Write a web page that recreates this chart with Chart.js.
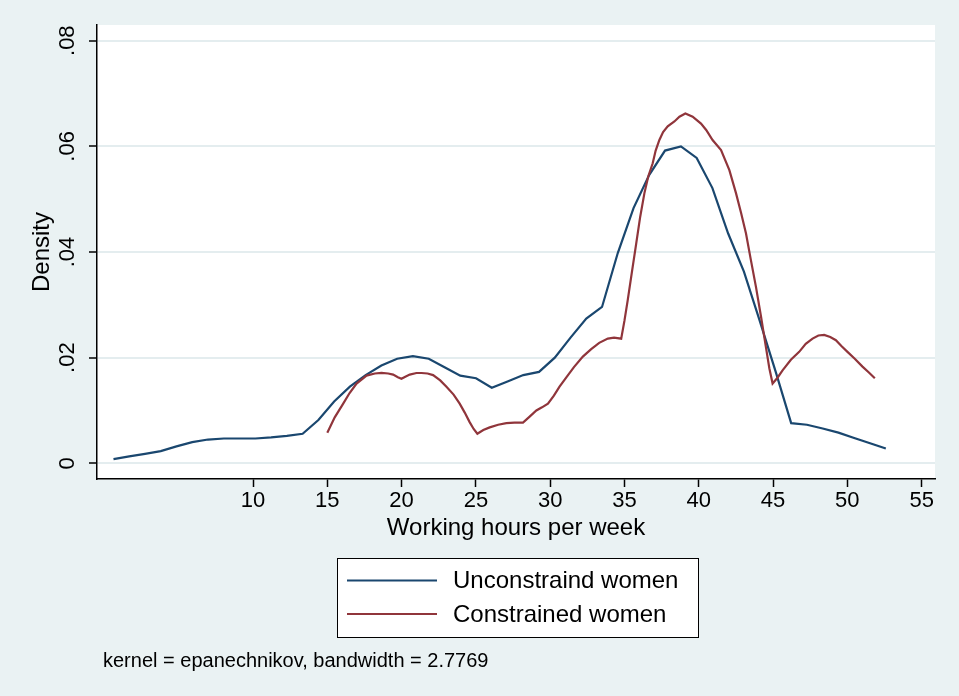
<!DOCTYPE html>
<html><head><meta charset="utf-8">
<script src="https://cdn.jsdelivr.net/npm/chart.js@4.4.1/dist/chart.umd.min.js"></script>
<style>html,body{margin:0;padding:0;background:#EAF2F3;} #wrap{width:959px;height:696px;position:relative;}</style>
</head><body><div id="wrap"><canvas id="c" width="959" height="696"></canvas></div>
<script>
// ---- data ----
const hoursUnconstrained = [0.61,1.67,2.73,3.79,4.85,5.91,6.97,8.04,9.10,10.16,11.22,12.28,13.34,14.40,15.46,16.52,17.58,18.64,19.70,20.76,21.83,22.89,23.95,25.01,26.07,27.13,28.19,29.25,30.31,31.37,32.43,33.49,34.55,35.61,36.67,37.73,38.80,39.86,40.92,41.98,43.04,44.10,45.16,46.22,47.28,48.34,49.40,50.46,51.53,52.59];
const densityUnconstrained = [0.0008,0.0013,0.0018,0.0023,0.0032,0.0040,0.0045,0.0047,0.0047,0.0047,0.0049,0.0052,0.0056,0.0082,0.0117,0.0145,0.0167,0.0185,0.0198,0.0203,0.0198,0.0182,0.0166,0.0161,0.0143,0.0155,0.0167,0.0173,0.0200,0.0238,0.0274,0.0296,0.0398,0.0483,0.0546,0.0592,0.0600,0.0578,0.0521,0.0435,0.0363,0.0270,0.0175,0.0076,0.0073,0.0066,0.0058,0.0048,0.0038,0.0028];
const hoursConstrained = [15.0,15.5,16.07,16.5,16.97,17.64,18.2,18.65,19.1,19.43,19.75,19.99,20.25,20.55,21.0,21.34,21.75,22.12,22.6,23.02,23.5,23.91,24.25,24.58,24.85,25.10,25.5,25.93,26.5,27.05,27.6,28.17,28.6,29.07,29.45,29.85,30.25,30.63,31.1,31.6,32.2,32.76,33.3,33.88,34.3,34.78,35.0,35.22,35.5,35.79,36.05,36.34,36.6,36.90,37.1,37.35,37.6,37.91,38.36,38.70,39.10,39.59,40.15,40.5,40.93,41.50,42.06,42.51,42.85,43.18,43.5,43.85,44.2,44.52,44.75,44.97,45.3,45.64,46.2,46.76,47.2,47.66,48.05,48.44,48.85,49.23,49.6,50.01,50.5,51.02,51.45,51.85];
const densityConstrained = [0.0058,0.0087,0.0113,0.0133,0.0151,0.0166,0.0170,0.0171,0.0170,0.0168,0.0163,0.0160,0.0164,0.0168,0.0171,0.0171,0.0170,0.0167,0.0157,0.0145,0.0130,0.0113,0.0096,0.0078,0.0065,0.0056,0.0063,0.0068,0.0073,0.0076,0.0077,0.0077,0.0088,0.0100,0.0106,0.0113,0.0128,0.0145,0.0163,0.0182,0.0202,0.0216,0.0228,0.0236,0.0238,0.0236,0.0270,0.0309,0.0362,0.0416,0.0465,0.0511,0.0543,0.0568,0.0592,0.0612,0.0627,0.0638,0.0647,0.0656,0.0662,0.0656,0.0643,0.0631,0.0612,0.0593,0.0555,0.0511,0.0474,0.0435,0.0386,0.0334,0.0276,0.0220,0.0180,0.0151,0.0162,0.0176,0.0196,0.0211,0.0226,0.0236,0.0242,0.0243,0.0239,0.0233,0.0222,0.0211,0.0198,0.0183,0.0172,0.0161];
const xTickValues = [10,15,20,25,30,35,40,45,50,55];
const yTickValues = [0,0.02,0.04,0.06,0.08];
const yTickLabels = ['0','.02','.04','.06','.08'];
const seriesNames = ['Unconstraind women','Constrained women'];
const xAxisTitle = 'Working hours per week';
const yAxisTitle = 'Density';
const noteText = 'kernel = epanechnikov, bandwidth = 2.7769';

const FONT = "'Liberation Sans', Arial, Helvetica, sans-serif";
const BLUE = '#1A476F', RED = '#90353B';
const toPts = (xs, ys) => xs.map((x, i) => ({x, y: ys[i]}));

const decor = {
  id: 'decor',
  beforeDraw(chart) {
    const {ctx, chartArea: a} = chart;
    ctx.save();
    ctx.fillStyle = '#EAF2F3';
    ctx.fillRect(0, 0, chart.width, chart.height);
    ctx.fillStyle = '#FFFFFF';
    ctx.fillRect(a.left, a.top, a.right - a.left, a.bottom - a.top);
    ctx.restore();
  },
  afterDraw(chart) {
    const {ctx} = chart;
    const ys = chart.scales.y;
    ctx.save();
    // rotated y tick labels
    ctx.fillStyle = '#000';
    ctx.font = '22px ' + FONT;
    ctx.textAlign = 'center';
    ctx.textBaseline = 'middle';
    yTickValues.forEach((v, i) => {
      const py = ys.getPixelForValue(v);
      ctx.save();
      ctx.translate(68, py);
      ctx.rotate(-Math.PI / 2);
      ctx.fillText(yTickLabels[i], 0, 0);
      ctx.restore();
    });
    // legend box
    const bx = 337.5, by = 558.5, bw = 361, bh = 79;
    ctx.fillStyle = '#FFFFFF';
    ctx.fillRect(bx, by, bw, bh);
    ctx.strokeStyle = '#000';
    ctx.lineWidth = 1;
    ctx.strokeRect(bx, by, bw, bh);
    const rows = [580.5, 614];
    chart.data.datasets.forEach((ds, i) => {
      ctx.strokeStyle = ds.borderColor;
      ctx.lineWidth = 2;
      ctx.beginPath();
      ctx.moveTo(347, rows[i]);
      ctx.lineTo(437, rows[i]);
      ctx.stroke();
      ctx.fillStyle = '#000';
      ctx.font = '24px ' + FONT;
      ctx.textAlign = 'left';
      ctx.textBaseline = 'middle';
      ctx.fillText(ds.label, 453, rows[i] + 1);
    });
    // note
    ctx.font = '20px ' + FONT;
    ctx.fillStyle = '#000';
    ctx.textAlign = 'left';
    ctx.textBaseline = 'middle';
    ctx.fillText(noteText, 103, 661);
    ctx.restore();
  }
};

new Chart(document.getElementById('c'), {
  type: 'line',
  data: {
    datasets: [
      {label: seriesNames[0], data: toPts(hoursUnconstrained, densityUnconstrained), borderColor: BLUE, backgroundColor: BLUE, borderWidth: 2.2, pointRadius: 0, tension: 0, fill: false, order: 1},
      {label: seriesNames[1], data: toPts(hoursConstrained, densityConstrained), borderColor: RED, backgroundColor: RED, borderWidth: 2.2, pointRadius: 0, tension: 0, fill: false, order: 0}
    ]
  },
  options: {
    responsive: false,
    animation: false,
    devicePixelRatio: 1,
    layout: {padding: {left: 0, top: 25, right: 24, bottom: 150}},
    plugins: {legend: {display: false}, tooltip: {enabled: false}},
    scales: {
      x: {
        type: 'linear', min: -0.5, max: 55.9,
        afterBuildTicks: s => { s.ticks = xTickValues.map(v => ({value: v})); },
        afterFit: s => { s.height = 67; },
        grid: {drawOnChartArea: false, tickLength: 8, tickColor: '#000', tickWidth: 1.5},
        border: {display: true, color: '#000', width: 1.5},
        ticks: {color: '#000', font: {family: FONT, size: 22}, padding: 1, maxRotation: 0, autoSkip: false},
        title: {display: true, text: xAxisTitle, color: '#000', font: {family: FONT, size: 24, lineHeight: 1.2}, padding: {top: 0, bottom: 3.6}}
      },
      y: {
        type: 'linear', min: -0.00297, max: 0.08297,
        afterBuildTicks: s => { s.ticks = yTickValues.map(v => ({value: v})); },
        afterFit: s => { s.width = 97; },
        grid: {color: '#E4EDEF', lineWidth: 2, tickLength: 8, tickColor: '#000', tickWidth: 1.5},
        border: {display: true, color: '#000', width: 1.5},
        ticks: {display: false},
        title: {display: true, text: yAxisTitle, color: '#000', font: {family: FONT, size: 24, lineHeight: 1.2}, padding: {top: 27.6, bottom: 0}}
      }
    }
  },
  plugins: [decor]
});
</script>
</body></html>
